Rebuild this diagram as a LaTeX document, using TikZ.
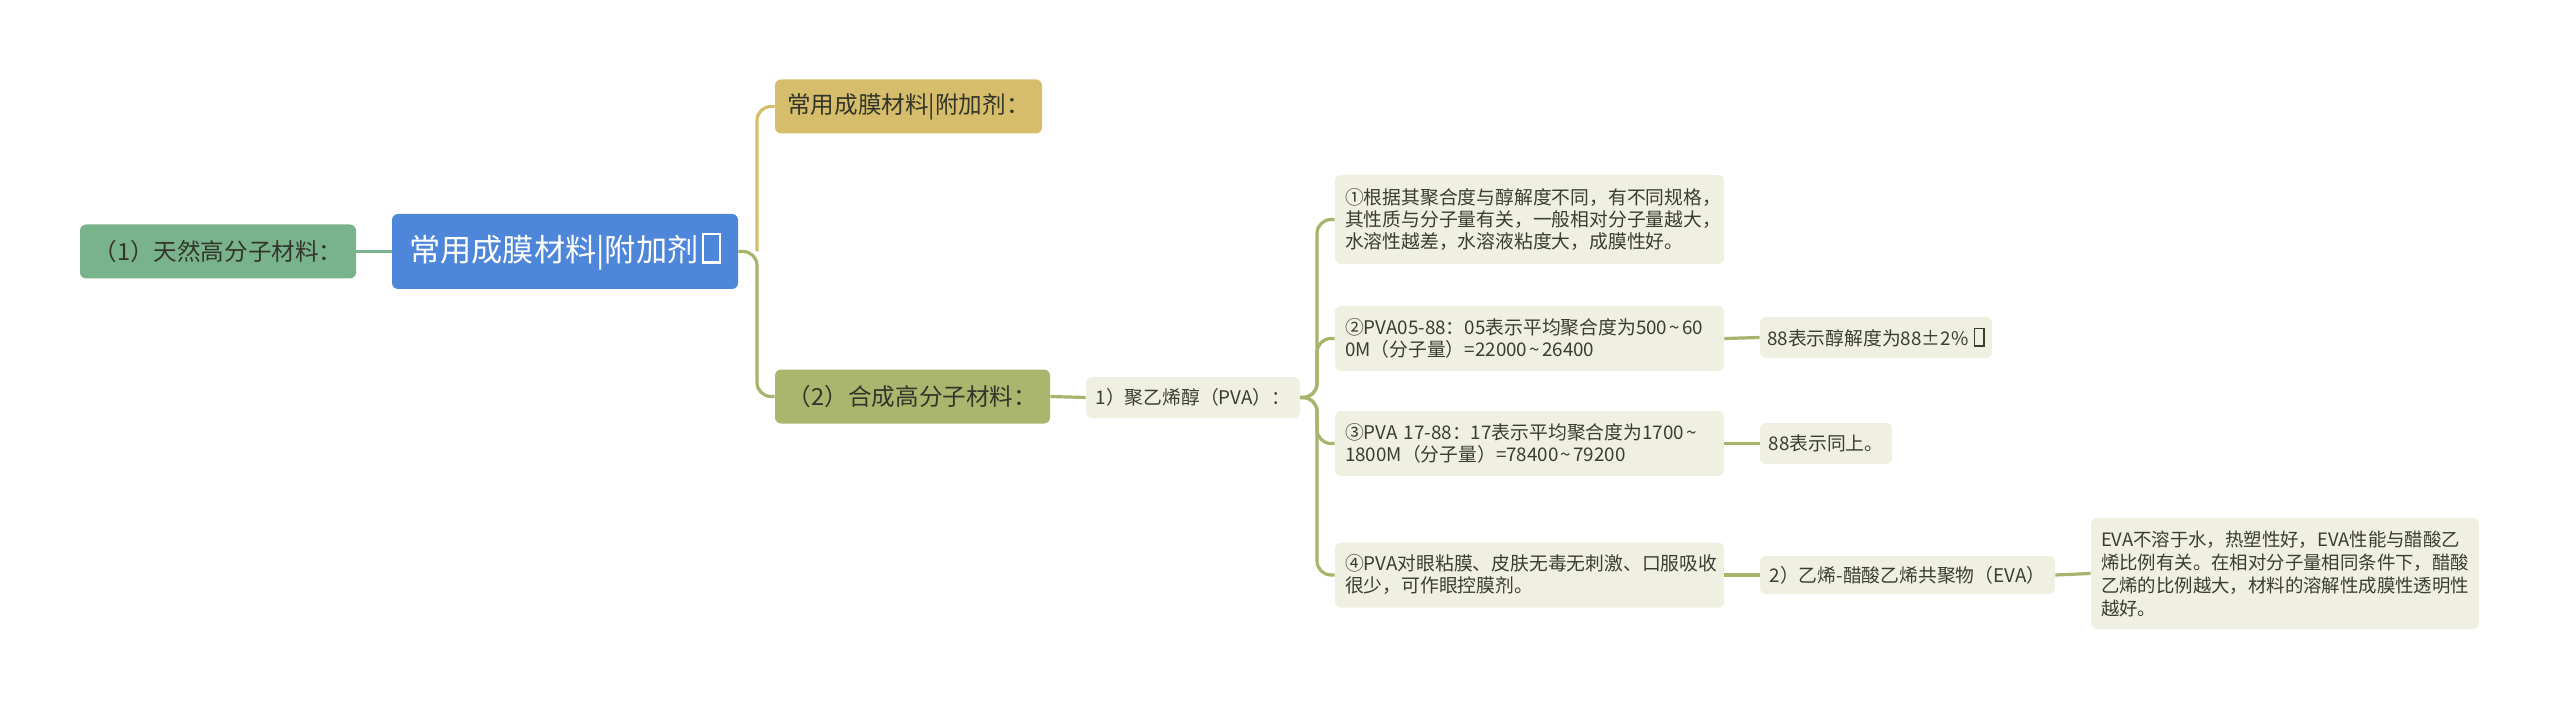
\documentclass[tikz,border=0pt]{standalone}
\usepackage{fontspec}
\setmainfont{Noto Sans CJK SC}
\definecolor{rootblue}{HTML}{4E86DA}
\definecolor{natgreen}{HTML}{79B38B}
\definecolor{addgold}{HTML}{D5BD6B}
\definecolor{synolive}{HTML}{AAB56D}
\definecolor{leafbg}{HTML}{EFEFE2}
\definecolor{lineolive}{HTML}{A8B36B}
\definecolor{topictext}{HTML}{33352A}
\definecolor{leaftext}{HTML}{3C3E2C}
% missing glyph box, as printed
\newcommand{\tofu}{\hspace{0.12em}{\fboxsep=0pt\fboxrule=0.07em\fbox{\rule{0pt}{0.85em}\hspace{0.45em}}}}
% narrow range tilde
\newcommand{\rng}{\kern0.12em\textasciitilde\kern0.12em}

\begin{document}
\begin{tikzpicture}[x=0.5pt,y=-0.5pt,
  box/.style={rounded corners=3pt, inner sep=0pt, align=left},
  mainbox/.style={box, fill=rootblue, text=white, minimum width=173pt,
    minimum height=37.5pt, font=\fontsize{15.6pt}{18pt}\selectfont},
  topicbox/.style={box, text=topictext, minimum height=27pt,
    font=\fontsize{11.8pt}{14pt}\selectfont},
  leafbox/.style={box, fill=leafbg, text=leaftext,
    font=\fontsize{9.4pt}{11pt}\selectfont},
  notebox/.style={leafbox, inner xsep=5pt, inner ysep=0pt},
  link/.style={line width=1.6pt, rounded corners=7pt}]
  \useasboundingbox (0,0) rectangle (2560,711);

  % root and main topics
  \node[mainbox] (root) at (565,251.5) {常用成膜材料|附加剂\tofu};
  \node[topicbox, fill=natgreen, minimum width=138pt] (nat) at (218,251.5) {（1）天然高分子材料：};
  \node[topicbox, fill=addgold, minimum width=133.5pt] (add) at (908.5,106.5) {常用成膜材料|附加剂：};
  \node[topicbox, fill=synolive, minimum width=137.5pt] (syn) at (912.5,396.5) {（2）合成高分子材料：};

  % PVA
  \node[leafbox, minimum width=107pt, minimum height=20.5pt] (pva) at (1193,397.5) {1）聚乙烯醇（PVA）：};
  \node[notebox, text width=184.5pt, minimum height=44.5pt] (p1) at (1529.5,219.5)
    {①根据其聚合度与醇解度不同，有不同规格，\\其性质与分子量有关，一般相对分子量越大，\\水溶性越差，水溶液粘度大，成膜性好。};
  \node[notebox, text width=184.5pt, minimum height=32.5pt] (p2) at (1529.5,338.5)
    {②PVA05-88：05表示平均聚合度为500\rng60\\0M（分子量）=22000\rng26400};
  \node[notebox, text width=184.5pt, minimum height=32.5pt] (p3) at (1529.5,443.5)
    {③PVA 17-88：17表示平均聚合度为1700\rng\\1800M（分子量）=78400\rng79200};
  \node[notebox, text width=184.5pt, minimum height=32.5pt] (p4) at (1529.5,575)
    {④PVA对眼粘膜、皮肤无毒无刺激、口服吸收\\很少，可作眼控膜剂。};
  \node[leafbox, minimum width=116pt, minimum height=20.5pt] (q2) at (1876,337.5) {88表示醇解度为88±2\%\,\tofu};
  \node[leafbox, minimum width=66pt, minimum height=20.5pt] (q3) at (1826,443.5) {88表示同上。};

  % EVA
  \node[leafbox, minimum width=147.5pt, minimum height=19pt] (eva) at (1907.5,575) {2）乙烯-醋酸乙烯共聚物（EVA）};
  \node[notebox, text width=184pt, minimum height=55.5pt, font=\fontsize{9.2pt}{11.5pt}\selectfont] (evad) at (2285,573.5)
    {EVA不溶于水，热塑性好，EVA性能与醋酸乙\\烯比例有关。在相对分子量相同条件下，醋酸\\乙烯的比例越大，材料的溶解性成膜性透明性\\越好。};

  % connectors
  \draw[link, natgreen] (root.west) -- (nat.east);
  \coordinate (rootfork) at (757,251.5);
  \draw[link, lineolive] (root.east) -- (rootfork) |- (syn.west);
  \draw[link, addgold] (rootfork) |- (add.west);
  \draw[link, lineolive] (syn.east) -- (pva.west);
  \coordinate (pvafork) at (1317,397.5);
  \foreach \leaf in {p1,p2,p3,p4}
    \draw[link, lineolive] (pva.east) -- (pvafork) |- (\leaf.west);
  \draw[link, lineolive] (p2.east) -- (q2.west);
  \draw[link, lineolive] (p3.east) -- (q3.west);
  \draw[link, lineolive] (p4.east) -- (eva.west);
  \draw[link, lineolive] (eva.east) -- (evad.west);
\end{tikzpicture}
\end{document}
